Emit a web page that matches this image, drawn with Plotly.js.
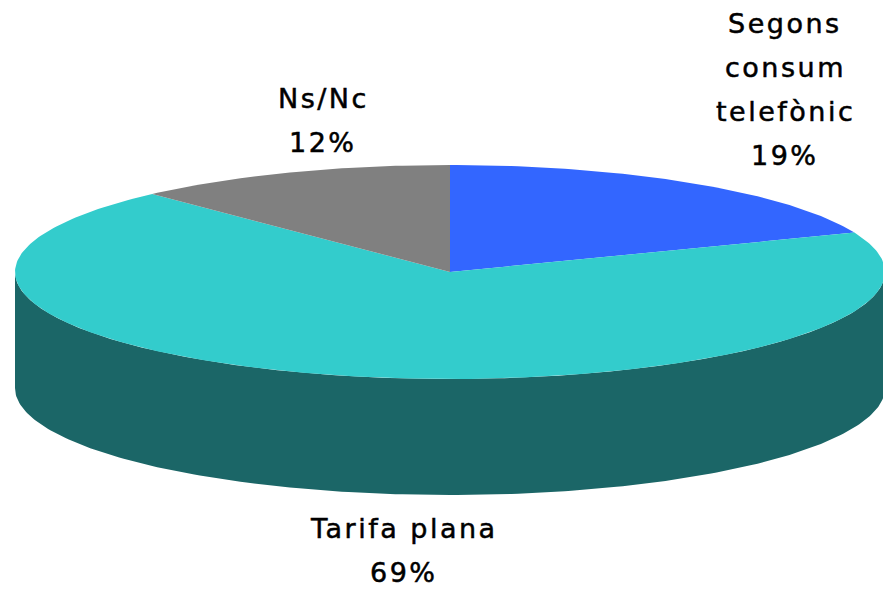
<!DOCTYPE html>
<html>
<head>
<meta charset="utf-8">
<script src="https://cdn.plot.ly/plotly-3.0.1.min.js"></script>
<style>html,body{margin:0;padding:0;background:#fff;}#chart{width:883px;height:591px;}
.annotation-text{letter-spacing:2.5px;stroke:#000;stroke-width:0.5px;}</style>
</head>
<body>
<div id="chart"></div>
<script>
// ---- data ----
var categories = ["Segons consum telefònic", "Tarifa plana", "Ns/Nc"];
var labelLines = [["Segons", "consum", "telefònic"], ["Tarifa plana"], ["Ns/Nc"]];
var values = [19, 69, 12];
var colors = ["#3366FF", "#33CCCC", "#808080"];
var sideColor = "#1B6667";

// ---- geometry (pixel-like data space) ----
var W = 883, H = 591;
var cx = 450, cy = 272, rx = 435, ry = 107, depth = 116;
var labelPos = [[785, 23], [404, 528], [323, 98]];
var lineGap = 44;

function pt(t, dy) { // t in radians, clockwise from top
  return [cx + rx * Math.sin(t), cy - ry * Math.cos(t) + (dy || 0)];
}

var traces = [];
var total = values.reduce(function (a, b) { return a + b; }, 0);

// side wall (front half visible)
var sx = [], sy = [], N = 200, i, p;
for (i = 0; i <= N; i++) { p = pt(Math.PI / 2 + Math.PI * i / N, 0); sx.push(p[0]); sy.push(p[1]); }
for (i = N; i >= 0; i--) { p = pt(Math.PI / 2 + Math.PI * i / N, depth); sx.push(p[0]); sy.push(p[1]); }
traces.push({x: sx, y: sy, type: "scatter", mode: "lines", fill: "toself",
  fillcolor: sideColor, line: {width: 0, color: sideColor}, hoverinfo: "skip", showlegend: false});

// top slices
var start = 0;
values.forEach(function (v, k) {
  var a0 = start / total * 2 * Math.PI, a1 = (start + v) / total * 2 * Math.PI;
  var xs = [cx], ys = [cy];
  var n = Math.max(4, Math.round(v * 4));
  for (var j = 0; j <= n; j++) { var q = pt(a0 + (a1 - a0) * j / n, 0); xs.push(q[0]); ys.push(q[1]); }
  xs.push(cx); ys.push(cy);
  traces.push({x: xs, y: ys, type: "scatter", mode: "lines", fill: "toself",
    fillcolor: colors[k], line: {width: 0, color: colors[k]}, name: categories[k],
    hoverinfo: "name", showlegend: false});
  start += v;
});

// labels
var annotations = [];
values.forEach(function (v, k) {
  var lines = labelLines[k].concat([Math.round(v / total * 100) + "%"]);
  lines.forEach(function (t, j) {
    annotations.push({x: labelPos[k][0], y: labelPos[k][1] + j * lineGap, xref: "x", yref: "y",
      text: t, showarrow: false, xanchor: "center", yanchor: "middle",
      font: {family: "DejaVu Sans", size: 27, color: "#000"}});
  });
});

var layout = {
  width: W, height: H,
  margin: {l: 0, r: 0, t: 0, b: 0},
  paper_bgcolor: "#fff", plot_bgcolor: "#fff",
  xaxis: {range: [0, W], visible: false, fixedrange: true},
  yaxis: {range: [H, 0], visible: false, fixedrange: true},
  annotations: annotations,
  showlegend: false
};
Plotly.newPlot("chart", traces, layout, {displayModeBar: false, staticPlot: true});
</script>
</body>
</html>
